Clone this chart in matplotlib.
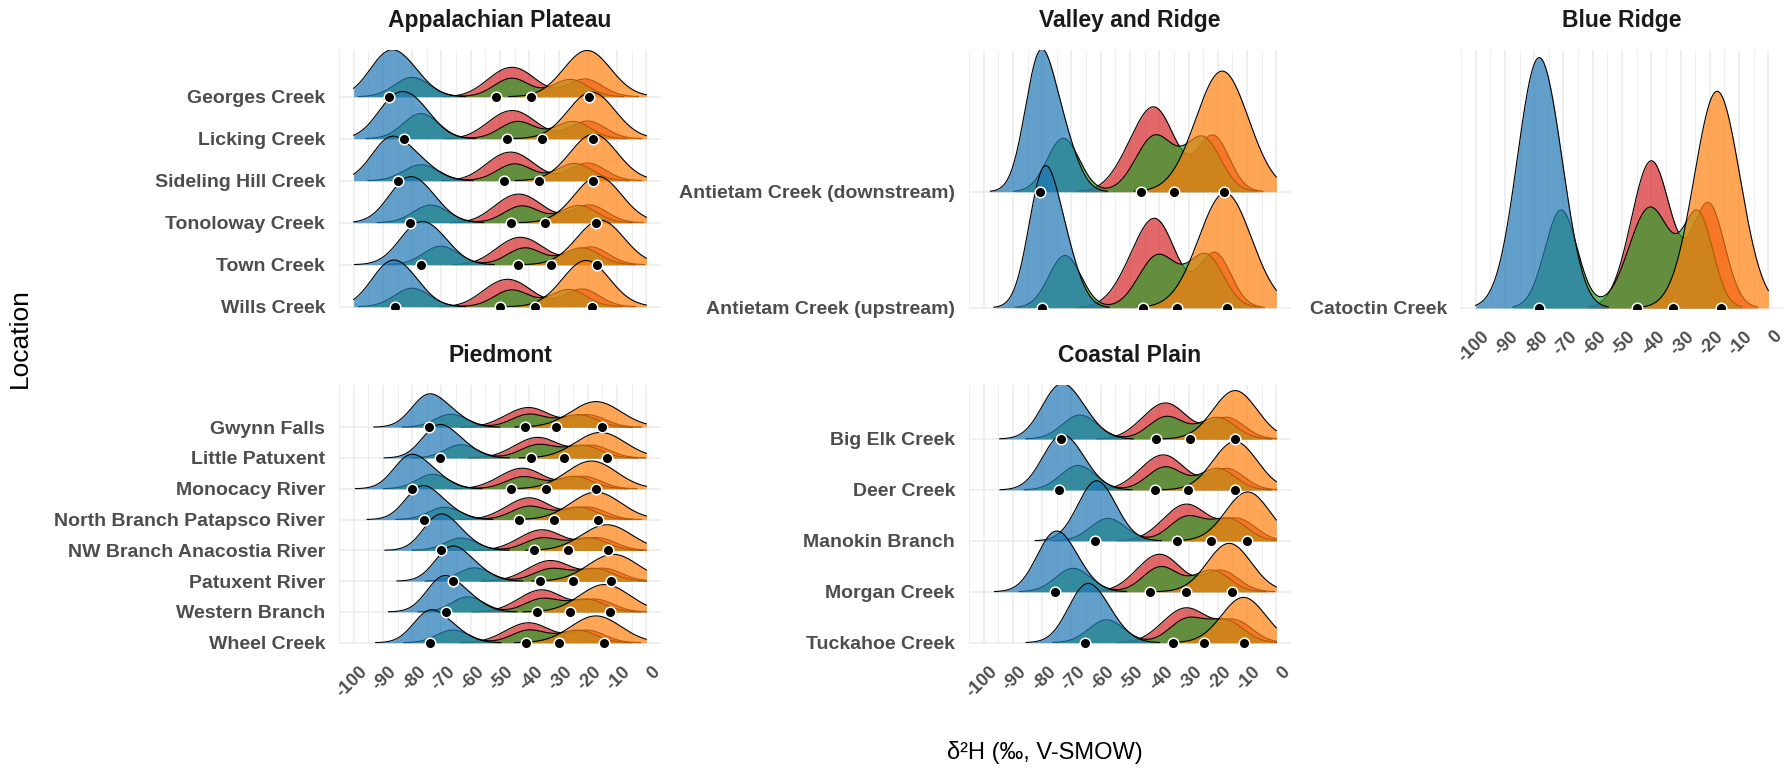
import matplotlib.pyplot as plt
import numpy as np
from matplotlib.transforms import ScaledTranslation

plt.rcParams['font.family'] = ['Liberation Sans', 'DejaVu Sans']

# Peaks: (centre in per mil, height in row units, width).
# Rows are listed top to bottom. Means are blue, green, red, orange.

# --- Appalachian Plateau ---
ap_locations = ["Georges Creek", "Licking Creek", "Sideling Hill Creek",
                "Tonoloway Creek", "Town Creek", "Wills Creek"]
ap_blue = [[(-88.5, 0.95, 6.5), (-80.0, 0.38, 6)], [(-85.8, 0.90, 6.5), (-77.0, 0.50, 6)],
           [(-87.5, 0.98, 6.5), (-77.0, 0.32, 6)], [(-82.0, 0.94, 6.5), (-73.6, 0.35, 6)],
           [(-78.5, 0.85, 6.5), (-70.2, 0.38, 6)], [(-88.0, 0.93, 6.5), (-80.0, 0.37, 6)]]
ap_green = [[(-80.0, 0.46, 6), (-46.0, 0.44, 6), (-26.0, 0.41, 6)],
            [(-77.0, 0.60, 6), (-44.0, 0.41, 6), (-25.0, 0.41, 6)],
            [(-77.0, 0.38, 6), (-45.0, 0.40, 6), (-24.5, 0.41, 6)],
            [(-73.6, 0.42, 6), (-42.5, 0.40, 6), (-23.0, 0.41, 6)],
            [(-70.2, 0.44, 6), (-41.5, 0.40, 6), (-22.0, 0.40, 6)],
            [(-80.0, 0.44, 6), (-46.0, 0.40, 6), (-26.5, 0.41, 6)]]
ap_red = [[(-52.0, 0.22, 6), (-44.0, 0.59, 7), (-21.0, 0.42, 6)],
          [(-51.8, 0.22, 6), (-43.8, 0.56, 7), (-20.0, 0.42, 6)],
          [(-52.4, 0.22, 6), (-44.4, 0.57, 7), (-20.0, 0.42, 6)],
          [(-49.6, 0.22, 6), (-41.6, 0.57, 7), (-19.5, 0.42, 6)],
          [(-48.9, 0.22, 6), (-40.9, 0.54, 7), (-19.0, 0.42, 6)],
          [(-53.3, 0.22, 6), (-45.3, 0.54, 7), (-22.0, 0.42, 6)]]
ap_orange = [[(-20.2, 1.10, 8)], [(-18.7, 1.11, 8)], [(-18.0, 1.11, 8)],
             [(-16.5, 1.10, 8)], [(-15.7, 1.06, 8)], [(-20.6, 1.10, 8)]]
ap_means = [(-87.8, -51.5, -39.4, -19.7), (-82.8, -47.5, -35.7, -18.3),
            (-84.9, -48.7, -36.8, -18.3), (-80.9, -46.1, -34.5, -17.2),
            (-76.9, -43.9, -32.5, -16.8), (-86.0, -50.0, -37.9, -18.7)]

# --- Valley and Ridge ---
vr_locations = ["Antietam Creek (downstream)", "Antietam Creek (upstream)"]
vr_blue = [[(-81.0, 1.11, 5.0), (-72.8, 0.40, 5.0)], [(-79.8, 1.08, 5.0), (-72.2, 0.40, 5.0)]]
vr_green = [[(-72.8, 0.46, 5.5), (-41.5, 0.48, 6.5), (-25.0, 0.46, 6)],
            [(-72.2, 0.45, 5.5), (-40.5, 0.45, 6.5), (-24.0, 0.45, 6)]]
vr_red = [[(-49.0, 0.25, 6.5), (-40.4, 0.61, 6.5), (-21.6, 0.48, 5.5)],
          [(-48.8, 0.25, 6.5), (-40.2, 0.65, 6.5), (-21.0, 0.47, 5.5)]]
vr_orange = [[(-18.5, 1.04, 9)], [(-17.5, 0.99, 9)]]
vr_means = [(-80.6, -46.4, -34.9, -17.8), (-79.9, -45.7, -33.8, -16.9)]

# --- Blue Ridge ---
br_locations = ["Catoctin Creek"]
br_blue = [[(-79.0, 0.92, 7.0), (-70.8, 0.14, 5.5)]]
br_green = [[(-70.8, 0.38, 5.5), (-40.4, 0.39, 7.2), (-23.8, 0.35, 5.0)]]
br_red = [[(-40.0, 0.57, 6.8), (-20.4, 0.40, 5.5)]]
br_orange = [[(-17.5, 0.84, 7.8)]]
br_means = [(-78.2, -45.0, -32.6, -16.2)]

# --- Piedmont ---
pi_locations = ["Gwynn Falls", "Little Patuxent", "Monocacy River",
                "North Branch Patapsco River", "NW Branch Anacostia River",
                "Patuxent River", "Western Branch", "Wheel Creek"]
pi_blue = [[(-75.0, 0.95, 5.5), (-66.7, 0.36, 5.5)], [(-71.5, 0.95, 5.5), (-63.3, 0.36, 5.5)],
           [(-81.2, 0.97, 5.5), (-72.9, 0.40, 5.5)], [(-77.2, 0.98, 5.5), (-68.9, 0.34, 5.5)],
           [(-71.0, 1.04, 5.5), (-63.3, 0.34, 5.5)], [(-67.0, 1.01, 5.5), (-58.7, 0.36, 5.5)],
           [(-69.8, 1.05, 5.5), (-61.0, 0.41, 5.5)], [(-74.4, 0.94, 5.5), (-66.1, 0.35, 5.5)]]
pi_green = [[(-66.7, 0.42, 5.5), (-40.0, 0.42, 6), (-23.0, 0.40, 6)],
            [(-63.3, 0.43, 5.5), (-37.0, 0.43, 6), (-21.5, 0.40, 6)],
            [(-72.9, 0.47, 5.5), (-42.0, 0.39, 6), (-24.5, 0.40, 6)],
            [(-68.9, 0.40, 5.5), (-40.0, 0.43, 6), (-23.0, 0.40, 6)],
            [(-63.3, 0.40, 5.5), (-35.5, 0.40, 6), (-19.5, 0.40, 6)],
            [(-58.7, 0.43, 5.5), (-32.5, 0.40, 6), (-17.3, 0.40, 6)],
            [(-61.0, 0.49, 5.5), (-35.5, 0.43, 6), (-20.2, 0.40, 6)],
            [(-66.1, 0.41, 5.5), (-40.0, 0.41, 6), (-23.2, 0.40, 6)]]
pi_red = [[(-46.7, 0.20, 6), (-38.7, 0.54, 6.5), (-20.0, 0.40, 6)],
          [(-43.7, 0.20, 6), (-35.7, 0.57, 6.5), (-18.5, 0.40, 6)],
          [(-48.9, 0.20, 6), (-40.9, 0.57, 6.5), (-21.5, 0.40, 6)],
          [(-46.7, 0.20, 6), (-38.7, 0.61, 6.5), (-20.0, 0.40, 6)],
          [(-42.2, 0.20, 6), (-34.2, 0.57, 6.5), (-16.5, 0.40, 6)],
          [(-39.3, 0.20, 6), (-31.3, 0.57, 6.5), (-14.3, 0.40, 6)],
          [(-42.5, 0.20, 6), (-34.5, 0.62, 6.5), (-17.2, 0.40, 6)],
          [(-46.7, 0.20, 6), (-38.7, 0.55, 6.5), (-20.2, 0.40, 6)]]
pi_orange = [[(-17.2, 0.83, 8.5)], [(-15.7, 0.83, 8.5)], [(-18.7, 0.90, 8.5)],
             [(-17.2, 0.89, 8.5)], [(-13.5, 0.83, 8.5)], [(-11.3, 0.87, 8.5)],
             [(-14.2, 0.89, 8.5)], [(-17.2, 0.87, 8.5)]]
pi_means = [(-74.2, -41.6, -30.8, -15.3), (-70.5, -39.4, -28.0, -13.5),
            (-80.1, -46.4, -34.2, -17.2), (-76.0, -43.6, -31.6, -16.5),
            (-70.1, -38.4, -26.8, -13.1), (-66.0, -36.4, -25.0, -12.0),
            (-68.6, -37.5, -26.1, -12.3), (-73.8, -41.2, -29.8, -14.5)]

# --- Coastal Plain ---
cp_locations = ["Big Elk Creek", "Deer Creek", "Manokin Branch",
                "Morgan Creek", "Tuckahoe Creek"]
cp_blue = [[(-74.8, 0.88, 6), (-67.1, 0.40, 6)], [(-74.8, 0.84, 6), (-67.7, 0.41, 6)],
           [(-62.7, 0.90, 6), (-57.5, 0.37, 6)], [(-76.5, 0.97, 6), (-69.4, 0.39, 6)],
           [(-65.7, 0.97, 6), (-58.0, 0.38, 6)]]
cp_green = [[(-67.1, 0.47, 6), (-37.5, 0.44, 6), (-20.0, 0.42, 6)],
            [(-67.7, 0.48, 6), (-38.0, 0.45, 6), (-20.0, 0.42, 6)],
            [(-57.5, 0.44, 6), (-30.5, 0.47, 6), (-16.0, 0.42, 6)],
            [(-69.4, 0.46, 6), (-39.5, 0.49, 6), (-22.0, 0.42, 6)],
            [(-58.0, 0.45, 6), (-30.5, 0.46, 6), (-17.0, 0.42, 6)]]
cp_red = [[(-44.3, 0.22, 6), (-36.3, 0.60, 6.5), (-17.0, 0.42, 6)],
          [(-45.0, 0.22, 6), (-37.0, 0.58, 6.5), (-17.0, 0.42, 6)],
          [(-37.3, 0.22, 6), (-29.3, 0.61, 6.5), (-13.0, 0.42, 6)],
          [(-46.4, 0.22, 6), (-38.4, 0.63, 6.5), (-19.0, 0.42, 6)],
          [(-37.3, 0.22, 6), (-29.3, 0.57, 6.5), (-14.0, 0.42, 6)]]
cp_orange = [[(-14.1, 0.95, 7.5)], [(-14.1, 0.95, 7.5)], [(-9.8, 0.96, 7.5)],
             [(-16.1, 0.95, 7.5)], [(-11.2, 0.89, 7.5)]]
cp_means = [(-73.5, -41.2, -29.4, -14.3), (-74.2, -41.6, -30.1, -14.3),
            (-62.1, -33.8, -22.4, -10.1), (-75.6, -43.3, -30.8, -15.0),
            (-65.3, -35.2, -24.8, -11.2)]

x_ticks = [-100, -90, -80, -70, -60, -50, -40, -30, -20, -10, 0]

COLORS = {"blue": "#1f77b4", "green": "#2ca02c", "red": "#d62728", "orange": "#ff7f0e"}
W, H = 1784, 774

panels = [
    # title, locs, blue, green, red, orange, means, (x0, y0, x1, y1) px, ylim, xlabels, clip
    ("Appalachian Plateau", ap_locations, ap_blue, ap_green, ap_red, ap_orange, ap_means,
     (339, 50, 661, 308.5), (-0.043, 6.112), False, True),
    ("Valley and Ridge", vr_locations, vr_blue, vr_green, vr_red, vr_orange, vr_means,
     (969, 50, 1291, 308.5), (-0.007, 2.222), False, True),
    ("Blue Ridge", br_locations, br_blue, br_green, br_red, br_orange, br_means,
     (1461, 50, 1783, 308.5), (-0.002, 1.0), True, True),
    ("Piedmont", pi_locations, pi_blue, pi_green, pi_red, pi_orange, pi_means,
     (339, 385, 661, 644), (-0.042, 8.37), True, False),
    ("Coastal Plain", cp_locations, cp_blue, cp_green, cp_red, cp_orange, cp_means,
     (969, 385, 1291, 644), (-0.026, 5.06), True, False),
]


def bumps(x, peaks):
    y = np.zeros_like(x)
    for c, h, s in peaks:
        y += h * np.exp(-0.5 * ((x - c) / s) ** 2)
    return y


fig = plt.figure(figsize=(W / 100, H / 100), dpi=100)
x = np.linspace(-100, 0, 1001)
shift = ScaledTranslation(5 / 100, 0, fig.dpi_scale_trans)

for title, locs, blue, green, red, orange, means, (x0, y0, x1, y1), ylim, xlabels, clip in panels:
    ax = fig.add_axes([x0 / W, 1 - y1 / H, (x1 - x0) / W, (y1 - y0) / H])
    n = len(locs)
    z = 2
    for i in range(n):
        base = n - 1 - i
        # draw order inside a row: red, green, blue, orange
        for key, peaks in (("red", red[i]), ("green", green[i]),
                           ("blue", blue[i]), ("orange", orange[i])):
            y = bumps(x, peaks)
            keep = y > 0.004
            ax.fill_between(x, base, base + y, where=keep, color=COLORS[key],
                            alpha=0.7, lw=0, zorder=z)
            ax.plot(x, np.where(keep, base + y, np.nan), color="black", lw=0.8, zorder=z + 0.5)
            z += 1
    for i in range(n):
        base = n - 1 - i
        ax.scatter(means[i], [base] * 4, s=58, c="black", edgecolors="white",
                   linewidths=1.1, zorder=1000, clip_on=clip)

    ax.set_xlim(-105, 5)
    ax.set_ylim(*ylim)
    ax.set_xticks(x_ticks)
    ax.set_xticks(np.arange(-105, 6, 10), minor=True)
    ax.set_yticks(range(n))
    ax.set_yticklabels(locs[::-1], fontsize=14, fontweight="bold", color="#4d4d4d")
    ax.tick_params(axis="y", length=0, pad=10)
    ax.tick_params(axis="x", which="both", length=0)
    if xlabels:
        ax.set_xticklabels([str(v) for v in x_ticks], rotation=45, ha="right", va="top",
                           rotation_mode="anchor", fontsize=13, fontweight="bold",
                           color="#4d4d4d")
        ax.tick_params(axis="x", pad=14)
        for lbl in ax.get_xticklabels():
            lbl.set_transform(lbl.get_transform() + shift)
    else:
        ax.set_xticklabels([])
    ax.grid(which="major", axis="both", color="#ebebeb", lw=1.1)
    ax.grid(which="minor", axis="x", color="#ebebeb", lw=0.6)
    ax.set_axisbelow(True)
    for sp in ax.spines.values():
        sp.set_visible(False)

    fig.text((x0 + x1) / 2 / W, 1 - (y0 - 29.5) / H, title, ha="center", va="center",
             fontsize=16.5, fontweight="bold", color="#1a1a1a")

fig.text(20 / W, 1 - 338 / H, "Location", rotation=90, ha="center", va="center", fontsize=19)
fig.text(1045 / W, 1 - 753 / H, "δ²H (‰, V-SMOW)", ha="center", va="center", fontsize=17)

fig.savefig("out.png", dpi=100)
